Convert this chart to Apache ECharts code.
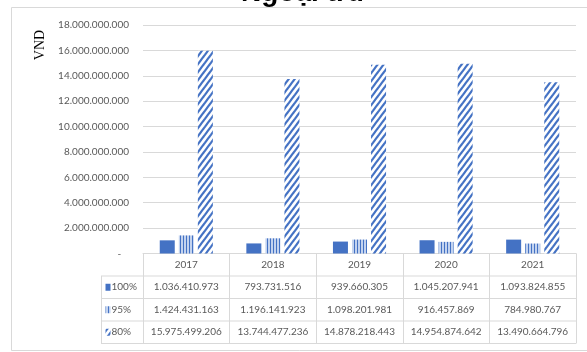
<!DOCTYPE html>
<html>
<head>
<meta charset="utf-8">
<script src="https://cdn.jsdelivr.net/npm/echarts@6/dist/echarts.min.js"></script>
<style>
  html, body { margin: 0; padding: 0; background: #fff; }
  #chart { width: 587px; height: 352px; }
</style>
</head>
<body>
<div id="chart"></div>
<script>
// Chi phí ngoại trú theo mức hưởng (VND)
const years = ['2017', '2018', '2019', '2020', '2021'];
const seriesNames = ['100%', '95%', '80%'];
const values100 = [1036410973, 793731516, 939660305, 1045207941, 1093824855];
const values95 = [1424431163, 1196141923, 1098201981, 916457869, 784980767];
const values80 = [15975499206, 13744477236, 14878218443, 14954874642, 13490664796];
const yTicks = [0, 2e9, 4e9, 6e9, 8e9, 10e9, 12e9, 14e9, 16e9, 18e9];

const BLUE = '#4472C4';
const GRID_COLOR = '#d9d9d9';
const TEXT_COLOR = '#595959';
const FONT = "Lato, 'Liberation Sans', sans-serif";
const FONT_SIZE = 10;

function fmt(v) {
  return String(Math.round(v)).replace(/\B(?=(\d{3})+(?!\d))/g, '.');
}

// Vertical-line fill for the 95% series
function verticalPattern() {
  const c = document.createElement('canvas');
  c.width = 3; c.height = 4;
  const g = c.getContext('2d');
  g.fillStyle = '#c3d3ef';
  g.fillRect(0, 0, 3, 4);
  g.fillStyle = BLUE;
  g.fillRect(0, 0, 1, 4);
  return { image: c, repeat: 'repeat' };
}

// Diagonal-line fill for the 80% series
function diagonalPattern() {
  const w = 6, h = 8;
  const c = document.createElement('canvas');
  c.width = w; c.height = h;
  const g = c.getContext('2d');
  g.fillStyle = '#ffffff';
  g.fillRect(0, 0, w, h);
  g.strokeStyle = BLUE;
  g.lineWidth = 2.2;
  for (const k of [0, 1, 2]) {
    const cc = k * h;
    g.beginPath();
    g.moveTo(-w, cc + h);
    g.lineTo(2 * w, cc - 2 * h);
    g.stroke();
  }
  return { image: c, repeat: 'repeat' };
}

const fills = [BLUE, verticalPattern(), diagonalPattern()];
const dataSets = [values100, values95, values80];

const chart = echarts.init(document.getElementById('chart'), null, { renderer: 'canvas' });

const option = {
  backgroundColor: '#ffffff',
  animation: false,
  grid: { left: 143, right: 11, top: 25, bottom: 98.5, containLabel: false },
  xAxis: {
    type: 'category',
    data: years,
    boundaryGap: true,
    axisLine: { show: true, lineStyle: { color: GRID_COLOR, width: 1 } },
    axisTick: { show: true, length: 90, interval: 0, lineStyle: { color: GRID_COLOR, width: 1 } },
    axisLabel: { color: TEXT_COLOR, fontFamily: FONT, fontSize: FONT_SIZE, margin: 6 },
    splitLine: { show: false }
  },
  yAxis: {
    type: 'value',
    min: yTicks[0],
    max: yTicks[yTicks.length - 1],
    interval: yTicks[1] - yTicks[0],
    axisLine: { show: false },
    axisTick: { show: false },
    axisLabel: {
      color: TEXT_COLOR, fontFamily: FONT, fontSize: FONT_SIZE, margin: 14,
      formatter: v => (v === 0 ? '-   ' : fmt(v))
    },
    splitLine: { lineStyle: { color: GRID_COLOR, width: 1 } }
  },
  series: seriesNames.map((name, i) => ({
    name: name,
    type: 'bar',
    data: dataSets[i],
    barWidth: 15,
    barGap: '27%',
    itemStyle: { color: fills[i] }
  }))
};

chart.setOption(option);

// Data table below the plot plus title, axis name and frame
function buildGraphics() {
  const els = [];
  const left = 101, right = 576;
  const rowLines = [276, 298.5, 321, 343.5];
  const rowMid = [287.25, 309.75, 332.25];
  const font = FONT_SIZE + 'px ' + FONT;

  els.push({
    type: 'rect', silent: true,
    shape: { x: 11.5, y: 7.5, width: 600, height: 343 },
    style: { fill: null, stroke: GRID_COLOR, lineWidth: 1 }
  });

  rowLines.forEach(y => {
    els.push({
      type: 'line', silent: true,
      shape: { x1: left, y1: y, x2: right, y2: y },
      style: { stroke: GRID_COLOR, lineWidth: 1 }
    });
  });
  els.push({
    type: 'line', silent: true,
    shape: { x1: left + 0.5, y1: 276, x2: left + 0.5, y2: 343.5 },
    style: { stroke: GRID_COLOR, lineWidth: 1 }
  });

  seriesNames.forEach((name, r) => {
    els.push({
      type: 'rect', silent: true,
      shape: { x: 105.5, y: rowMid[r] - 3.5, width: 5, height: 7 },
      style: { fill: fills[r] }
    });
    els.push({
      type: 'text', silent: true,
      x: 111.5, y: rowMid[r],
      style: { text: name, fill: TEXT_COLOR, font: font, align: 'left', verticalAlign: 'middle' }
    });
    dataSets[r].forEach((v, c) => {
      const cx = chart.convertToPixel({ xAxisIndex: 0 }, c);
      els.push({
        type: 'text', silent: true,
        x: cx, y: rowMid[r],
        style: { text: fmt(v), fill: TEXT_COLOR, font: font, align: 'center', verticalAlign: 'middle' }
      });
    });
  });

  els.push({
    type: 'text', silent: true,
    x: 40, y: 45, rotation: Math.PI / 2,
    style: { text: 'VND', fill: '#000000', font: "14px 'Liberation Serif', serif", align: 'center', verticalAlign: 'middle' }
  });

  els.push({
    type: 'text', silent: true,
    x: 302.5, y: -7,
    style: { text: 'Ngoại trú', fill: '#000000', font: "bold 28px 'Liberation Sans', sans-serif", align: 'center', verticalAlign: 'middle' }
  });

  return els;
}

chart.setOption({ graphic: { elements: buildGraphics() } });
</script>
</body>
</html>
